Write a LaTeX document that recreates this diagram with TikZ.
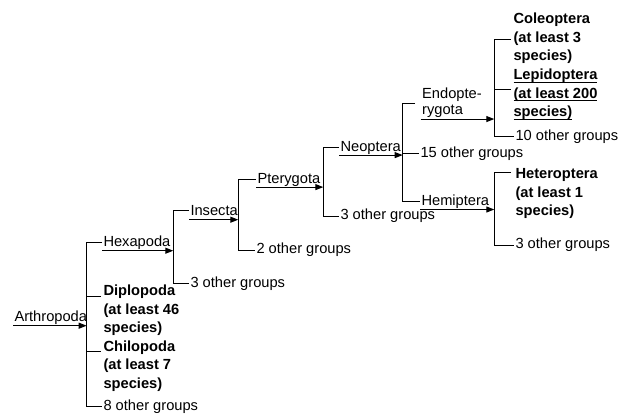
\documentclass[tikz,border=0pt]{standalone}
\usepackage{fontspec}
\setmainfont{Liberation Sans}
\usetikzlibrary{arrows.meta}

\newcommand\undl[1]{{\setbox0=\hbox{#1}\rlap{\rule[-2.4pt]{\wd0}{0.6pt}}\box0}}

\tikzset{every picture/.style={line width=0.75pt}}
\tikzset{
  lbl/.style={anchor=base west, inner sep=0.75pt, font=\fontsize{11}{13.8}\selectfont},
  taxon/.style={lbl, font=\fontsize{11}{13.8}\selectfont\bfseries, align=left},
  arr/.style={-{Triangle[length=6pt,width=4.5pt]}},
}

\begin{document}
\begin{tikzpicture}[x=0.75pt,y=0.75pt,yscale=-1,xscale=1]
\path[use as bounding box] (0,0) rectangle (620,416);

%x of the brackets
\coordinate (xA) at (86.7,0);
\coordinate (xH) at (173.3,0);
\coordinate (xI) at (238.3,0);
\coordinate (xP) at (323.3,0);
\coordinate (xN) at (402.7,0);
\coordinate (xE) at (494.3,0);

%(multi-line nodes sit on their last line)
% Text Node
\node[lbl] (arthro) at (13,321.7) {Arthropoda};
% Text Node
\node[lbl] (hexa) at (102,246.7) {Hexapoda};
% Text Node
\node[taxon] (diplo) at (102,332.5) {Diplopoda\\(at least 46\\species)};
% Text Node
\node[taxon] (chilo) at (102,388) {Chilopoda\\(at least 7\\species)};
% Text Node
\node[lbl] (oth8) at (102,410.5) {8 other groups};
% Text Node
\node[lbl] (insecta) at (189,215.7) {Insecta};
% Text Node
\node[lbl] (oth3a) at (189,287.1) {3 other groups};
% Text Node
\node[lbl] (ptery) at (256,183.1) {Pterygota};
% Text Node
\node[lbl] (oth2) at (255,253.8) {2 other groups};
% Text Node
\node[lbl] (neo) at (339,151.1) {Neoptera};
% Text Node
\node[lbl] (oth3b) at (339,219.8) {3 other groups};
% Text Node
\node[lbl, align=left, font=\fontsize{11}{12}\selectfont] (endo) at (420.7,114.5) {Endopte-\\rygota};
% Text Node
\node[lbl] (oth15) at (419,157.1) {15 other groups};
% Text Node
\node[lbl] (hemi) at (420,205.5) {Hemiptera};
% Text Node
\node[taxon] (coleo) at (512,60.8) {Coleoptera\\(at least 3\\species)};
% Text Node
\node[taxon] (lepi) at (512,116.5) {\undl{Lepidoptera}\\\undl{(at least 200}\\\undl{species)}};
% Text Node
\node[lbl] (oth10) at (514,140.5) {10 other groups};
% Text Node
\node[taxon] (hetero) at (514,215.5) {Heteroptera\\(at least 1\\species)};
% Text Node
\node[lbl] (oth3c) at (514,248.8) {3 other groups};

%ticks of the multi-line labels
\coordinate (tDiplo) at (101,296.7);
\coordinate (tChilo) at (101,351);
\coordinate (tEndo) at (415,104);
\coordinate (tColeo) at (511,40);
\coordinate (tLepi) at (511,90);
\coordinate (tHetero) at (511,172.7);

%Brackets
\draw (hexa.west) -| (xA |- oth8.west) -- (oth8.west);
\draw (xA |- tDiplo) -- (tDiplo);
\draw (xA |- tChilo) -- (tChilo);
\draw (insecta.west) -| (xH |- oth3a.west) -- (oth3a.west);
\draw (ptery.west) -| (xI |- oth2.west) -- (oth2.west);
\draw (neo.west) -| (xP |- oth3b.west) -- (oth3b.west);
\draw (tEndo) -| (xN |- hemi.west) -- (hemi.west);
\draw (xN |- oth15.west) -- (oth15.west);
\draw (tColeo) -| (xE |- oth10.west) -- (oth10.west);
\draw (xE |- tLepi) -- (tLepi);
\draw (tHetero) -| (xE |- oth3c.west) -- (oth3c.west);

%Arrows under the names
\draw[arr] ([yshift=3pt]arthro.base west) -- ([yshift=3pt]arthro.base west -| xA);
\draw[arr] ([yshift=3pt]hexa.base west) -- ([yshift=3pt]hexa.base west -| xH);
\draw[arr] ([yshift=3pt]insecta.base west) -- ([yshift=3pt]insecta.base west -| xI);
\draw[arr] ([yshift=3pt]ptery.base west) -- ([yshift=3pt]ptery.base west -| xP);
\draw[arr] ([yshift=3pt]neo.base west) -- ([yshift=3pt]neo.base west -| xN);
\draw[arr] (endo.south west) -- (endo.south west -| xE);
\draw[arr] ([yshift=3pt]hemi.base west) -- ([yshift=3pt]hemi.base west -| xE);

\end{tikzpicture}
\end{document}
